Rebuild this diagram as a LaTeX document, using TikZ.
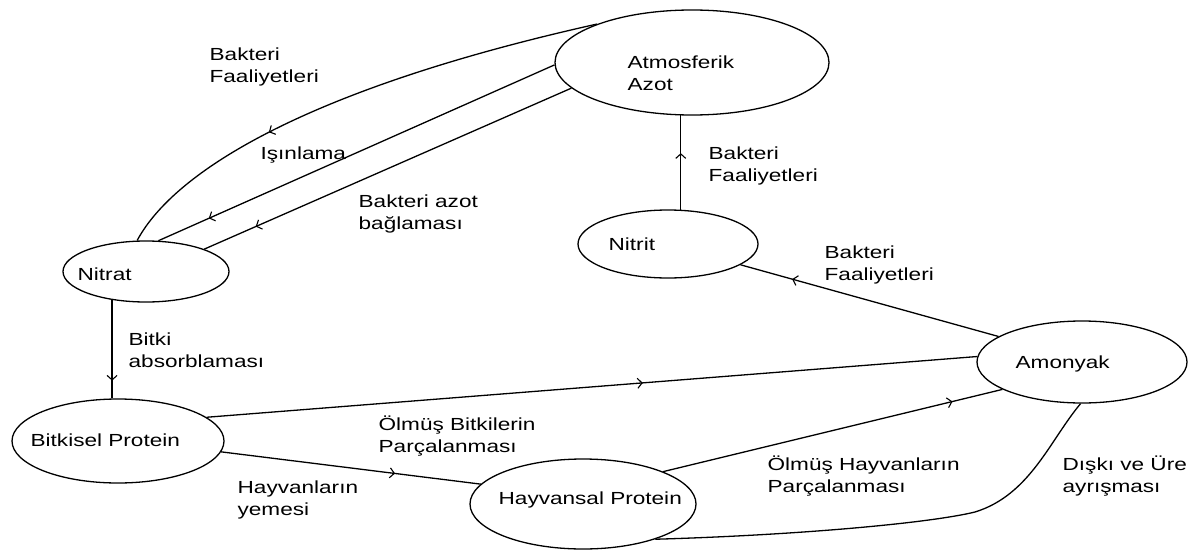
\documentclass[tikz,border=0pt]{standalone}
\usepackage{fontspec}
\usetikzlibrary{shapes.geometric,arrows.meta,decorations.markings}
\newfontfamily\lblfont[FakeStretch=1.29]{Liberation Sans}
\newcommand{\twolines}[2]{\begin{tabular}[t]{@{}l@{}}#1\\#2\end{tabular}}
\begin{document}
\begin{tikzpicture}[x=1pt,y=-1pt,
  line width=1.3pt,
  every node/.style={font=\lblfont\fontsize{17.5}{22}\selectfont},
  state/.style={ellipse,draw,inner sep=0pt},
  txt/.style={anchor=base west,inner sep=0pt},
  barb/.tip={Straight Barb[length=4.5pt,width=10pt,line width=1.1pt]},
  midarrow/.style={postaction={decorate},
    decoration={markings,mark=at position #1 with {\arrow{barb}}}}]
\useasboundingbox (0,0) rectangle (1190,551);

% states
\node[state,minimum width=274pt,minimum height=105pt] (atm)    at (692,62.5) {};
\node[state,minimum width=180pt,minimum height=68pt]  (nitrit) at (668,244)  {};
\node[state,minimum width=166pt,minimum height=61pt]  (nitrat) at (146,271.5){};
\node[state,minimum width=212pt,minimum height=84pt]  (bitk)   at (118,441)  {};
\node[state,minimum width=226pt,minimum height=90pt]  (hayv)   at (583,504)  {};
\node[state,minimum width=210pt,minimum height=82pt]  (amon)   at (1082,362) {};

% state names
\node[txt] (atmT)    at (627,68)  {\twolines{Atmosferik}{Azot}};
\node[txt] (nitritT) at (608,250) {Nitrit};
\node[txt] (nitratT) at (77,280)  {Nitrat};
\node[txt] (bitkT)   at (30,446)  {Bitkisel Protein};
\node[txt] (hayvT)   at (498,504) {Hayvansal Protein};
\node[txt] (amonT)   at (1015,368){Amonyak};

% transitions
\draw[midarrow=0.667] (atm.158) .. controls (310,88) and (175,170) .. (nitrat.106);
\draw[midarrow=0.873] (atm.181) -- (nitrat.68);
\draw[midarrow=0.86]  (atm.192.5) -- (nitrat.21.5);
\draw[midarrow=0.6]   (nitrit.69 -| atm.258) -- (atm.258);
\draw[midarrow=0.82]  (nitrat.220) -- (nitrat.220 |- bitk.north);
\draw[midarrow=0.566] (bitk.15) -- (amon.177);
\draw[midarrow=0.67]  (bitk.354) -- (hayv.169);
\draw[midarrow=0.853] (hayv.22) -- (amon.199.5);
\draw[midarrow=0.80]  (amon.163) -- (nitrit.344);
\draw (amon.268) .. controls (1050,440) and (1030,495) .. (975,512)
      .. controls (930,523) and (800,535) .. (hayv.334);

% transition labels
\node[txt] (lblBF1) at (209,60)  {\twolines{Bakteri}{Faaliyetleri}};
\node[txt] (lblIs)  at (260,159) {Işınlama};
\node[txt] (lblBA)  at (358,207) {\twolines{Bakteri azot}{bağlaması}};
\node[txt] (lblBF2) at (708,159) {\twolines{Bakteri}{Faaliyetleri}};
\node[txt] (lblBF3) at (824,258) {\twolines{Bakteri}{Faaliyetleri}};
\node[txt] (lblBit) at (128,345) {\twolines{Bitki}{absorblaması}};
\node[txt] (lblOB)  at (378,430) {\twolines{Ölmüş Bitkilerin}{Parçalanması}};
\node[txt] (lblYem) at (237,493) {\twolines{Hayvanların}{yemesi}};
\node[txt] (lblOH)  at (767,470) {\twolines{Ölmüş Hayvanların}{Parçalanması}};
\node[txt] (lblDU)  at (1062,470){\twolines{Dışkı ve Üre}{ayrışması}};
\end{tikzpicture}
\end{document}
